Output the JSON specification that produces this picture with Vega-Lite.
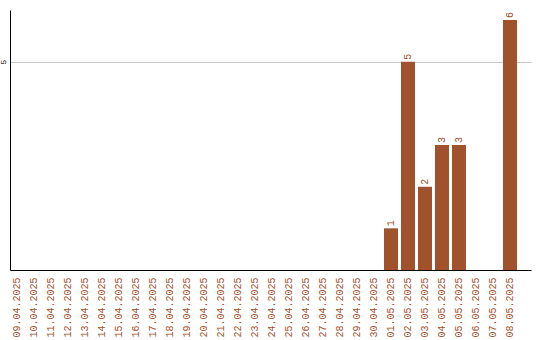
{
  "$schema": "https://vega.github.io/schema/vega-lite/v6.json",
  "width": 521,
  "height": 260,
  "autosize": {"type": "none"},
  "padding": {"left": 10, "top": 10, "right": 9, "bottom": 70},
  "background": "white",
  "data": {
    "values": [
      {"date": "09.04.2025", "value": 0},
      {"date": "10.04.2025", "value": 0},
      {"date": "11.04.2025", "value": 0},
      {"date": "12.04.2025", "value": 0},
      {"date": "13.04.2025", "value": 0},
      {"date": "14.04.2025", "value": 0},
      {"date": "15.04.2025", "value": 0},
      {"date": "16.04.2025", "value": 0},
      {"date": "17.04.2025", "value": 0},
      {"date": "18.04.2025", "value": 0},
      {"date": "19.04.2025", "value": 0},
      {"date": "20.04.2025", "value": 0},
      {"date": "21.04.2025", "value": 0},
      {"date": "22.04.2025", "value": 0},
      {"date": "23.04.2025", "value": 0},
      {"date": "24.04.2025", "value": 0},
      {"date": "25.04.2025", "value": 0},
      {"date": "26.04.2025", "value": 0},
      {"date": "27.04.2025", "value": 0},
      {"date": "28.04.2025", "value": 0},
      {"date": "29.04.2025", "value": 0},
      {"date": "30.04.2025", "value": 0},
      {"date": "01.05.2025", "value": 1},
      {"date": "02.05.2025", "value": 5},
      {"date": "03.05.2025", "value": 2},
      {"date": "04.05.2025", "value": 3},
      {"date": "05.05.2025", "value": 3},
      {"date": "06.05.2025", "value": 0},
      {"date": "07.05.2025", "value": 0},
      {"date": "08.05.2025", "value": 6}
    ]
  },
  "encoding": {
    "x": {
      "field": "date",
      "type": "ordinal",
      "sort": null,
      "scale": {"paddingInner": 0.1765, "paddingOuter": 0.412, "align": 0},
      "axis": {
        "title": null,
        "labelAngle": -90,
        "labelFont": "Liberation Mono",
        "labelFontSize": 10,
        "labelColor": "#A0522D",
        "labelPadding": 7,
        "ticks": false,
        "domainColor": "#000000",
        "domainWidth": 1,
        "grid": false
      }
    },
    "y": {
      "field": "value",
      "type": "quantitative",
      "scale": {"domain": [0, 6.24], "nice": false},
      "axis": {
        "title": null,
        "values": [5],
        "labelAngle": -90,
        "labelFont": "Liberation Mono",
        "labelFontSize": 8,
        "labelColor": "#000000",
        "labelPadding": 3,
        "ticks": false,
        "domainColor": "#000000",
        "domainWidth": 1,
        "grid": true,
        "gridColor": "#c8c8c8",
        "gridWidth": 1
      }
    }
  },
  "layer": [
    {
      "mark": {"type": "bar", "color": "#A0522D"}
    },
    {
      "transform": [{"filter": "datum.value > 0"}],
      "mark": {
        "type": "text",
        "angle": -90,
        "align": "left",
        "baseline": "middle",
        "dx": 2,
        "font": "Liberation Mono",
        "fontSize": 10,
        "color": "#A0522D"
      },
      "encoding": {"text": {"field": "value", "type": "quantitative"}}
    }
  ],
  "config": {"view": {"stroke": null}}
}
